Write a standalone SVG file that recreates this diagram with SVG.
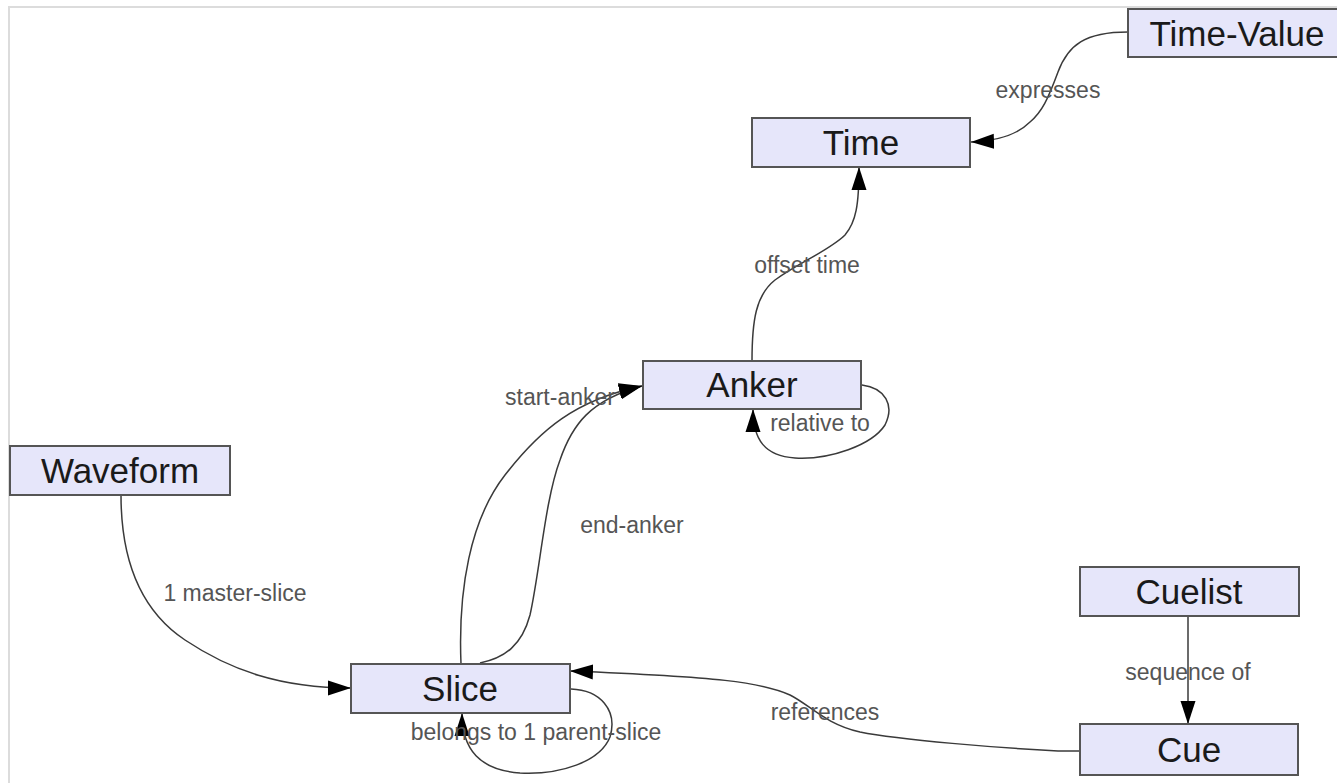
<svg xmlns="http://www.w3.org/2000/svg" width="1337" height="783" viewBox="0 0 1337 783">
<style>
.node rect{fill:#e6e6fa;stroke:#555;stroke-width:2}
.node text{font-family:"Liberation Sans",Arial,sans-serif;font-size:35px;fill:#1a1a1a;text-anchor:middle}
.edge{fill:none;stroke:#3a3a3a;stroke-width:1.5}
.lbl{font-family:"Liberation Sans",Arial,sans-serif;font-size:23px;fill:#555;text-anchor:middle}
</style>
<defs>
<marker id="arr" markerUnits="userSpaceOnUse" markerWidth="24" markerHeight="16" refX="23" refY="8" orient="auto" viewBox="0 0 24 16">
<path d="M0,0.5 L23,8 L0,15.5 z" fill="#000"/>
</marker>
</defs>
<rect x="0" y="0" width="1337" height="783" fill="#fff"/>
<path d="M9,783 L9,7 L1337,7" fill="none" stroke="#dcdcdc" stroke-width="2"/>
<g id="connectors">
<path class="edge" d="M1128,32 C1085,32 1068,45 1058,72 S1042,112 1030,122 C1018,134 1000,141 971,142" marker-end="url(#arr)"/>
<path class="edge" d="M752,361 C752,320 756,295 775,280 C800,262 830,250 845,235 C856,222 859,205 859,167" marker-end="url(#arr)"/>
<path class="edge" d="M461,664 C458,590 470,520 505,475 C540,430 575,400 642,386" marker-end="url(#arr)"/>
<path class="edge" d="M480,663 C505,658 522,645 530,615 C540,570 545,500 560,460 C572,425 590,400 642,386" marker-end="url(#arr)"/>
<path class="edge" d="M121,495 C121,560 140,610 185,640 C230,670 280,688 351,688" marker-end="url(#arr)"/>
<path class="edge" d="M571,689 C600,690 618,710 610,737 C600,762 560,775 520,773 C480,770 462,750 462,713" marker-end="url(#arr)"/>
<path class="edge" d="M862,385 C885,388 895,405 885,425 C872,445 830,460 795,458 C765,456 753,440 753,409" marker-end="url(#arr)"/>
<path class="edge" d="M1188,616 L1188,724" marker-end="url(#arr)"/>
<path class="edge" d="M1080,751 L1058,751 C1000,748 900,740 860,732 C825,724 810,705 790,695 C760,682 720,677 570,671" marker-end="url(#arr)"/>
<text class="lbl" x="1048" y="98">expresses</text>
<text class="lbl" x="807" y="273">offset time</text>
<text class="lbl" x="560" y="405">start-anker</text>
<text class="lbl" x="820" y="431">relative to</text>
<text class="lbl" x="632" y="533">end-anker</text>
<text class="lbl" x="235" y="601">1 master-slice</text>
<text class="lbl" x="1188" y="680">sequence of</text>
<text class="lbl" x="825" y="720">references</text>
<text class="lbl" x="536" y="740">belongs to 1 parent-slice</text>
</g>
<g id="node-timevalue" class="node"><rect x="1128" y="9" width="218" height="48"/><text x="1237" y="46">Time-Value</text></g>
<g id="node-time" class="node"><rect x="752" y="118" width="218" height="49"/><text x="861" y="155">Time</text></g>
<g id="node-anker" class="node"><rect x="643" y="361" width="218" height="48"/><text x="752" y="397">Anker</text></g>
<g id="node-waveform" class="node"><rect x="10" y="446" width="220" height="49"/><text x="120" y="483">Waveform</text></g>
<g id="node-slice" class="node"><rect x="351" y="664" width="219" height="49"/><text x="460" y="701">Slice</text></g>
<g id="node-cuelist" class="node"><rect x="1080" y="567" width="219" height="49"/><text x="1189" y="604">Cuelist</text></g>
<g id="node-cue" class="node"><rect x="1080" y="724" width="218" height="51"/><text x="1189" y="762">Cue</text></g>
</svg>
